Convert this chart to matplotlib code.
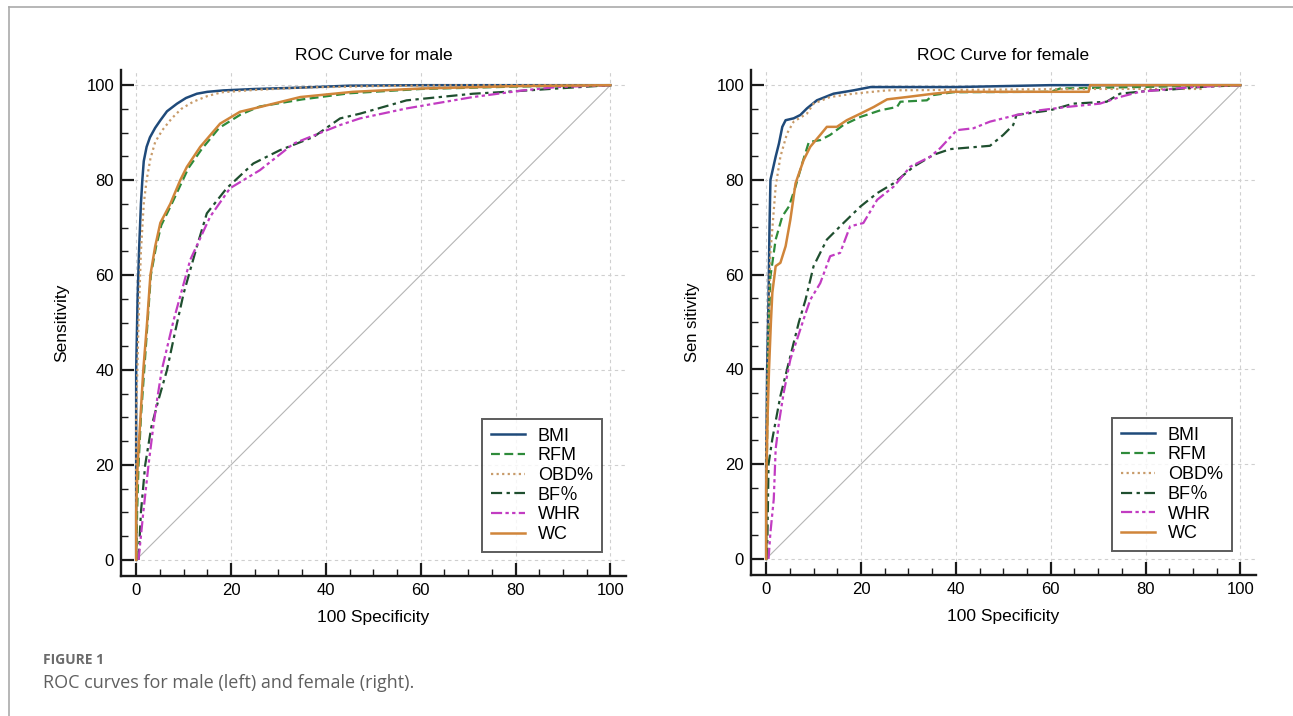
import matplotlib
matplotlib.use("Agg")
import matplotlib.pyplot as plt
from matplotlib.lines import Line2D

# ---------------------------
# DATOS
# ---------------------------

labels = ["BMI", "RFM", "OBD%", "BF％", "WHR", "WC"]

# Hombres
m_bmi_x = [0, 0, 0.3, 0.6, 1.0, 1.3, 1.6, 2.2, 2.9, 4.0, 5.1, 6.5, 8.6, 10.5, 12.8, 15, 18.4, 25, 35, 45, 60, 100]
m_bmi_y = [0, 40, 55, 65, 75, 80, 84, 87, 89, 91, 92.6, 94.5, 96.1, 97.3, 98.2, 98.6, 98.9, 99.2, 99.5, 99.9, 100, 100]
m_rfm_x = [0, 0.2, 0.5, 1.0, 1.7, 2.4, 3.1, 4.2, 5.3, 7.5, 9.6, 11, 13.8, 17.5, 22, 26, 35, 45, 60, 80, 100]
m_rfm_y = [0, 10, 20, 30, 40, 50, 60, 66, 70.5, 75, 79.5, 82.5, 86.5, 91, 93.8, 95.5, 97, 98.3, 99.2, 99.7, 100]
m_obd_x = [0, 0, 0.5, 1.0, 1.6, 2.2, 3.0, 4.0, 5.5, 7.5, 9.5, 12, 15, 18, 25, 35, 50, 70, 100]
m_obd_y = [0, 30, 50, 65, 75, 80, 84.5, 88, 90.5, 93, 95, 96.5, 97.7, 98.5, 99, 99.5, 99.8, 100, 100]
m_bf_x = [0.5, 1.0, 1.9, 3.2, 4.7, 6.5, 8.2, 10, 12.8, 14.9, 19.1, 24.7, 30.3, 37.4, 43, 47.2, 57, 64, 71, 78, 88.7, 100]
m_bf_y = [0, 10, 20, 28, 33.7, 40, 48, 56.1, 66, 73, 78.3, 83.5, 86.3, 89.1, 93, 94, 96.8, 97.5, 98.2, 98.6, 99.3, 100]
m_whr_x = [0.5, 1.5, 2.6, 3.6, 4.4, 5.4, 7.9, 11.4, 15.6, 19.8, 26.1, 33.2, 40.2, 43, 47.2, 57, 71, 81.6, 88.7, 100]
m_whr_y = [0, 10, 20, 28, 33.7, 40, 50.5, 63.2, 72.3, 78.3, 82.1, 87.7, 90.5, 91.6, 93, 95.1, 97.5, 98.9, 99.6, 100]
m_wc_x = [0, 0, 0.3, 0.9, 1.5, 2.3, 3.0, 4.0, 5.1, 7.2, 9.3, 10.7, 13.5, 17.7, 21.9, 26.1, 34.6, 45.7, 60, 80, 100]
m_wc_y = [0, 10, 20, 30, 40, 50, 60, 66, 71, 75, 80, 82.8, 87, 91.9, 94.4, 95.4, 97.5, 98.6, 99.3, 99.8, 100]

# Mujeres
f_bmi_x = [0, 0, 0.2, 0.5, 0.7, 0.9, 2.0, 2.7, 3.4, 4.1, 5.8, 7.2, 8.6, 10.7, 14.2, 18.4, 22, 40, 60, 100]
f_bmi_y = [0, 20, 40, 55, 70, 80, 84.9, 87.7, 91.2, 92.6, 93, 93.7, 95.1, 96.8, 98.2, 98.9, 99.6, 99.6, 100, 100]
f_rfm_x = [0, 0, 0.2, 0.4, 0.6, 0.9, 2.0, 3.4, 4.8, 6.2, 7.6, 9.0, 11.4, 13.5, 16.3, 19.9, 24.1, 27.6, 28.3, 33.9, 35.2, 39.4, 60, 62, 100]
f_rfm_y = [0, 10, 25, 40, 50, 59.6, 67.4, 72.3, 74.4, 78.6, 83.5, 88, 88.4, 89.5, 91.6, 93.3, 94.7, 95.4, 96.5, 96.8, 97.9, 98.5, 98.6, 99.3, 100]
f_obd_x = [0, 0, 0.3, 0.6, 0.9, 2.0, 3.0, 4.4, 5.8, 8.6, 10, 13.5, 18.4, 25.5, 68, 92, 92.5, 100]
f_obd_y = [0, 25, 40, 55, 64.6, 78.6, 84.9, 89.8, 92.3, 94, 96.1, 97.5, 98.2, 98.9, 99.2, 99.2, 100, 100]
f_bf_x = [0.2, 0.5, 1.3, 3.0, 4.4, 6.9, 8.3, 10, 12.8, 16.3, 19.9, 23.4, 26.9, 31.1, 35.3, 38.8, 47.2, 50, 52.1, 52.8, 59.9, 64.8, 71.8, 74.6, 81.6, 84.5, 91.4, 100]
f_bf_y = [0, 20, 25.3, 34.4, 40, 50, 54.7, 61.8, 67.4, 70.9, 74.4, 77.2, 79.3, 82.8, 85.3, 86.5, 87.2, 89.5, 91.6, 93.7, 94.7, 96.1, 96.5, 98.2, 98.9, 99, 99.6, 100]
f_whr_x = [0.5, 0.9, 1.6, 2.0, 2.7, 3.7, 5.1, 6.5, 8.2, 9.3, 11.4, 13.5, 15.6, 17.7, 20.5, 23.4, 26.9, 30.4, 34.6, 36.7, 40.2, 43.7, 47.2, 52.8, 57.7, 63.4, 70.4, 74.6, 78.8, 86.5, 90, 100]
f_whr_y = [0, 5.6, 12.6, 23.2, 28.8, 35.1, 42.1, 46.3, 51.5, 54.7, 58.2, 63.9, 64.6, 70.2, 70.9, 75.8, 78.6, 82.8, 84.9, 86.7, 90.5, 90.9, 92.3, 93.7, 94.7, 95.4, 96.1, 97.5, 98.6, 99.3, 99.6, 100]
f_wc_x = [0, 0, 0.3, 0.6, 1.0, 1.3, 2.0, 3.0, 4.1, 5.1, 6.2, 7.9, 9.3, 11.4, 12.8, 14.9, 17, 19.9, 22.7, 25.5, 29.7, 35.3, 39.4, 68, 68.3, 100]
f_wc_y = [0, 15, 30, 40, 50, 56.2, 61.8, 62.5, 66, 71.6, 79.3, 84.2, 87, 89.5, 91.2, 91.2, 92.6, 94, 95.4, 97, 97.5, 98.2, 98.6, 98.6, 100, 100]

# ---------------------------
# ESTILOS
# ---------------------------

colores = ["#1f4a7a", "#2e8b3a", "#c89b6a", "#1f4f2f", "#c23cc2", "#d0853a"]
estilos = ["-", (0, (4, 2)), (0, (1, 1.5)), (0, (5, 2, 1.5, 2)), (0, (5, 1.5, 1.5, 1.5, 1.5, 1.5)), "-"]
anchos = [1.8, 1.6, 1.6, 1.6, 1.6, 1.8]

plt.rcParams["font.family"] = ["Liberation Sans", "Noto Sans CJK SC", "DejaVu Sans"]

fig = plt.figure(figsize=(12.93, 7.16), dpi=100)

# marco de la tarjeta
fig.add_artist(Line2D([9 / 1293, 1], [1 - 7 / 716, 1 - 7 / 716], color="#aaaaaa", lw=1.2,
                      transform=fig.transFigure))
fig.add_artist(Line2D([9 / 1293, 9 / 1293], [0, 1 - 7 / 716], color="#aaaaaa", lw=1.2,
                      transform=fig.transFigure))


def dibujar_panel(ax, series, titulo, ylabel="Sensitivity", ylabel_size=12.5):
    ax.plot([0, 100], [0, 100], color="#b5b5b5", lw=0.8, zorder=1)
    for (xs, ys), lab, c, ls, lw in zip(series, labels, colores, estilos, anchos):
        ax.plot(xs, ys, color=c, linestyle=ls, lw=lw, label=lab, zorder=3)

    ax.set_xlim(-3.2, 103.3)
    ax.set_ylim(-3.4, 103.2)
    ax.set_xticks(range(0, 101, 20))
    ax.set_yticks(range(0, 101, 20))
    ax.set_xticks(range(0, 101, 5), minor=True)
    ax.set_yticks(range(0, 101, 5), minor=True)
    ax.grid(True, which="major", color="#cfcfcf", lw=0.8, linestyle=(0, (3, 3)))

    for lado in ["top", "right"]:
        ax.spines[lado].set_visible(False)
    for lado in ["left", "bottom"]:
        ax.spines[lado].set_linewidth(1.7)
        ax.spines[lado].set_color("#1a1a1a")
    ax.tick_params(which="major", direction="in", length=9.5, width=1.6, labelsize=12,
                   color="#1a1a1a", pad=5)
    ax.tick_params(which="minor", direction="in", length=4.8, width=1.0, color="#1a1a1a")

    ax.set_title(titulo, fontsize=12.5, pad=7)
    ax.set_xlabel("100 Specificity", fontsize=12.5, labelpad=9)
    ax.set_ylabel(ylabel, fontsize=ylabel_size, labelpad=12)

    leg = ax.legend(loc="lower right", bbox_to_anchor=(0.952, 0.047), borderaxespad=0,
                    fontsize=13, labelspacing=0.15, handlelength=1.9, handletextpad=0.7,
                    fancybox=False, frameon=True, borderpad=0.5)
    leg.get_frame().set_edgecolor("#333333")
    leg.get_frame().set_linewidth(1.4)


ax1 = fig.add_axes([121 / 1293, 140 / 716, 505 / 1293, 506 / 716])
dibujar_panel(ax1, [(m_bmi_x, m_bmi_y), (m_rfm_x, m_rfm_y), (m_obd_x, m_obd_y),
                    (m_bf_x, m_bf_y), (m_whr_x, m_whr_y), (m_wc_x, m_wc_y)],
              "ROC Curve for male")

ax2 = fig.add_axes([751 / 1293, 141 / 716, 505 / 1293, 505 / 716])
dibujar_panel(ax2, [(f_bmi_x, f_bmi_y), (f_rfm_x, f_rfm_y), (f_obd_x, f_obd_y),
                    (f_bf_x, f_bf_y), (f_whr_x, f_whr_y), (f_wc_x, f_wc_y)],
              "ROC Curve for female", ylabel="Sen sitivity", ylabel_size=12)

# pie de figura
fig.text(43 / 1293, 1 - 660 / 716, "FIGURE 1", fontsize=10, color="#6b6b6b",
         fontweight="bold", family=["Open Sans", "DejaVu Sans"], va="center")
fig.text(43 / 1293, 1 - 683 / 716, "ROC curves for male (left) and female (right).",
         fontsize=13, color="#5f5f5f", family=["Open Sans", "DejaVu Sans"], va="center")

fig.savefig("out.png", dpi=100)
